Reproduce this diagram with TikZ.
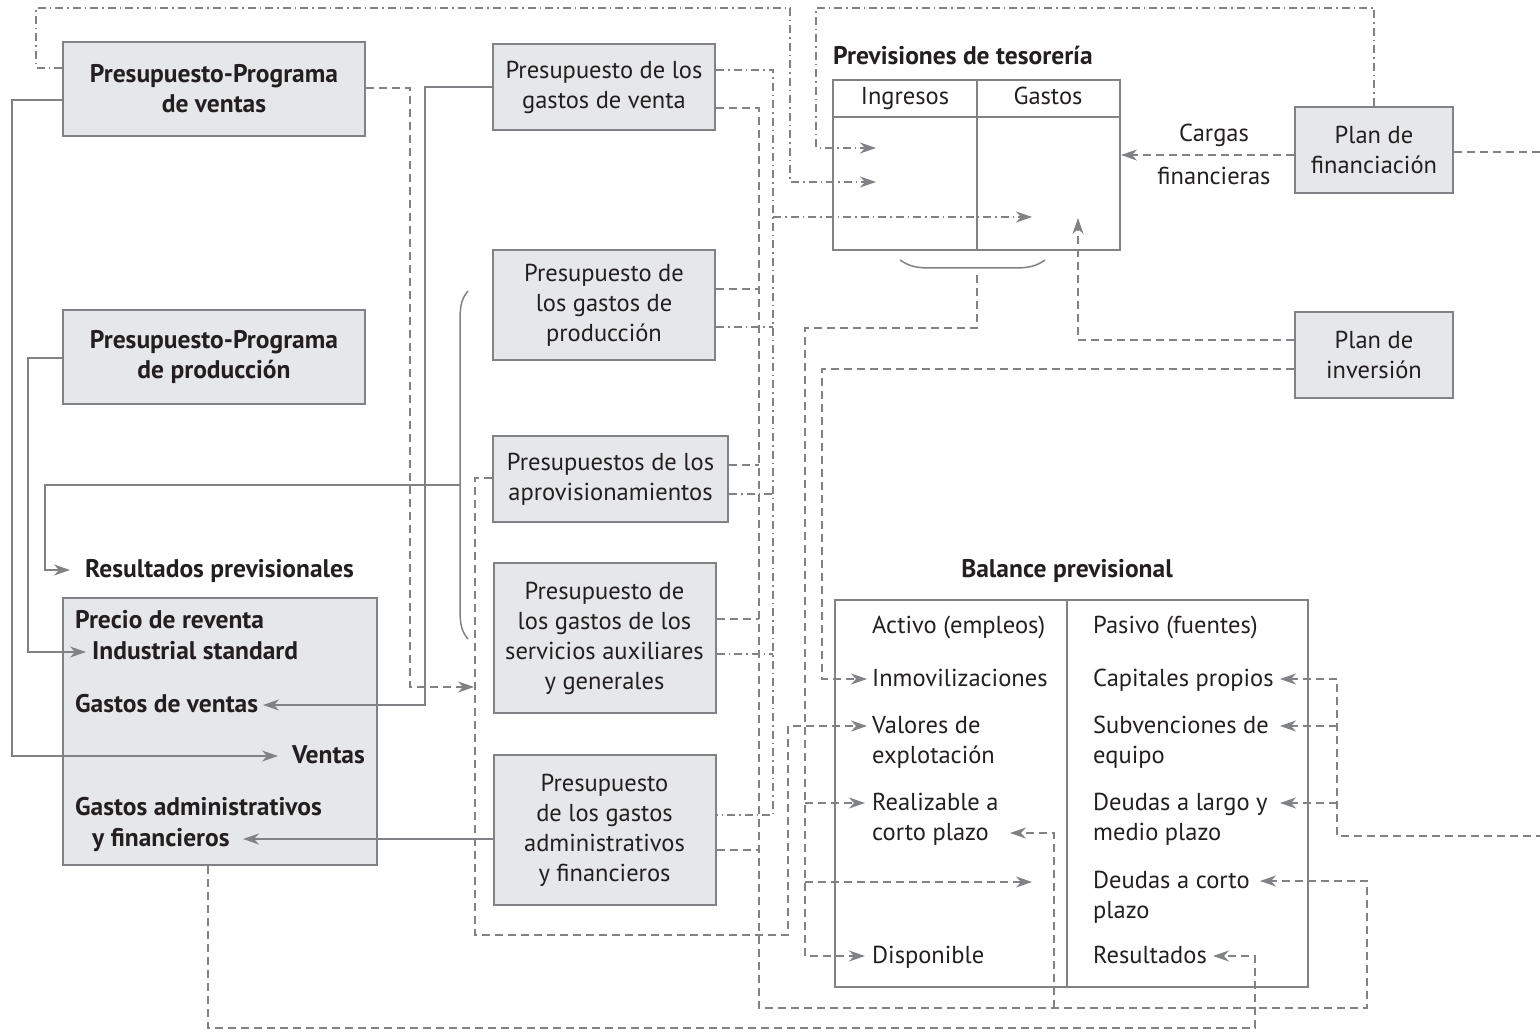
\documentclass[tikz,border=0pt]{standalone}
\usepackage{fontspec}
\setmainfont{PT Sans}
\usetikzlibrary{arrows.meta}
\definecolor{ln}{HTML}{808285}
\definecolor{bx}{HTML}{E6E7E8}
\definecolor{tx}{HTML}{231F20}

\begin{document}
\begin{tikzpicture}[x=1pt,y=-1pt,
  every node/.style={text=tx, font=\fontsize{24.5}{30}\selectfont},
  box/.style={draw=ln, line width=2pt, fill=bx, align=center, inner sep=0pt},
  bbox/.style={box, font=\fontsize{25.5}{30}\selectfont\bfseries},
  bt/.style={anchor=west, inner sep=0pt, text height=18pt, text depth=4pt},
  bold/.style={font=\fontsize{25.5}{30}\selectfont\bfseries},
  frame/.style={draw=ln, line width=2pt},
  sol/.style={draw=ln, line width=1.8pt},
  dsh/.style={draw=ln, line width=1.8pt, dash pattern=on 8pt off 5pt},
  dd/.style={draw=ln, line width=1.8pt, dash pattern=on 8pt off 4pt on 1.5pt off 4pt},
  tip/.style={-{Stealth[length=16pt,width=11pt,inset=5pt,fill=ln]}}
]
\useasboundingbox (0,0) rectangle (1540,1032);

% ---- budget boxes ----
\node[bbox, minimum width=302pt, minimum height=94pt] (pv) at (214,89) {Presupuesto-Programa\\de ventas};
\node[bbox, minimum width=302pt, minimum height=94pt] (pp) at (214,357) {Presupuesto-Programa\\de producción};
\node[box, minimum width=222pt, minimum height=86pt] (gv) at (604,87) {Presupuesto de los\\gastos de venta};
\node[box, minimum width=222pt, minimum height=110pt] (gp) at (604,305) {Presupuesto de\\los gastos de\\producción};
\node[box, minimum width=235pt, minimum height=86pt] (ap) at (610.5,479) {Presupuestos de los\\aprovisionamientos};
\node[box, minimum width=222pt, minimum height=150pt] (sa) at (604.5,638) {Presupuesto de\\los gastos de los\\servicios auxiliares\\y generales};
\node[box, minimum width=222pt, minimum height=150pt] (ga) at (604.5,830) {Presupuesto\\de los gastos\\administrativos\\y financieros};
\node[box, minimum width=158pt, minimum height=86pt] (pf) at (1374,150) {Plan de\\financiación};
\node[box, minimum width=158pt, minimum height=86pt] (pi) at (1374,355) {Plan de\\inversión};

% ---- provisional results ----
\node[bt, bold] (rprev) at (85,570) {Resultados previsionales};
\node[box, minimum width=314pt, minimum height=267pt] (rp) at (220,731.5) {};
\node[bt, bold] (prv) at (75,621) {Precio de reventa};
\node[bt, bold] (ind) at (92,652) {Industrial standard};
\node[bt, bold] (gdv) at (75,705) {Gastos de ventas};
\node[bt, bold, anchor=east] (vta) at (365,756) {Ventas};
\node[bt, bold] (gad) at (75,808) {Gastos administrativos};
\node[bt, bold] (yfin) at (92,839) {y financieros};

% ---- cash forecast table ----
\node[bt, bold] (ttes) at (833,58) {Previsiones de tesorería};
\node[frame, minimum width=287pt, minimum height=170pt, inner sep=0pt] (tes) at (976.5,165) {};
\draw[frame] (tes.west |- 0,117) -- (tes.east |- 0,117);
\draw[frame] (tes.north) -- (tes.south);
\node[bt, anchor=center] (ing) at (905,98) {Ingresos};
\node[bt, anchor=center] (gas) at (1048,98) {Gastos};
\draw[sol, line width=1.5pt] (900,260) .. controls (910,267) and (918,268) .. (932,268) -- (1013,268) .. controls (1027,268) and (1035,267) .. (1045,260);
\coordinate (bracebot) at (977,275);
\node[bt, anchor=center] (carg) at (1214,135) {Cargas};
\node[bt, anchor=center] (cfin) at (1214,178) {financieras};

% ---- brace grouping the operating budgets ----
\draw[sol, line width=1.5pt] (468,291) .. controls (462,298) and (460,305) .. (460,320) -- (460,610) .. controls (460,625) and (462,632) .. (468,639);
\coordinate (brace) at (460,485);

% ---- provisional balance sheet ----
\node[bt, bold, anchor=center] (tbal) at (1067,570) {Balance previsional};
\node[frame, minimum width=473pt, minimum height=387pt, inner sep=0pt] (bal) at (1071.5,793.5) {};
\draw[frame] (bal.north -| 1067,0) -- (bal.south -| 1067,0);
\node[bt] (act) at (872,626) {Activo (empleos)};
\node[bt] (inm) at (872,679) {Inmovilizaciones};
\node[bt] (vde) at (872,726) {Valores de};
\node[bt] (vde2) at (872,756) {explotación};
\node[bt] (rea) at (872,803) {Realizable a};
\node[bt] (cpl) at (872,833) {corto plazo};
\node[bt] (disp) at (872,956) {Disponible};
\node[bt] (pas) at (1093,626) {Pasivo (fuentes)};
\node[bt] (cap) at (1093,679) {Capitales propios};
\node[bt] (sub) at (1093,726) {Subvenciones de};
\node[bt] (sub2) at (1093,756) {equipo};
\node[bt] (dlp) at (1093,803) {Deudas a largo y};
\node[bt] (dlp2) at (1093,833) {medio plazo};
\node[bt] (dcp) at (1093,881) {Deudas a corto};
\node[bt] (dcp2) at (1093,911) {plazo};
\node[bt] (res) at (1093,956) {Resultados};

% ---- solid links to the provisional results ----
\draw[sol, tip] (pv.west |- 0,100) -- (12,100) |- (vta.west -| 278,0);
\draw[sol, tip] (pp.west |- 0,358) -- (28,358) |- (ind.west -| 86,0);
\draw[sol, tip] (brace) -- (45,485) |- (rprev.west -| 70,0);
\draw[sol, tip] (gv.west |- 0,87) -- (425,87) |- (gdv.east -| 263,0);
\draw[sol, tip] (ga.west |- yfin.east) -- (yfin.east -| 243,0);

% ---- sales programme to the operating budgets ----
\coordinate (gin) at (474,687);
\draw[dsh, tip] (pv.east |- 0,88) -- (410,88) |- (gin);
\draw[dsh, tip] (ap.west |- 0,478) -- (475,478) -- (475,935) -- (788,935) |- (vde.west -| 867,0);

% ---- expenses to short-term debts ----
\draw[dsh, tip] (gv.east |- 0,108) -- (759,108) -- (759,1008) -- (1367,1008) |- (dcp.east -| 1260,0);
\foreach \n/\y in {gp/289, ap/465, sa/619, ga/850}
  \draw[dsh] (\n.east |- 0,\y) -- (759,\y);
\draw[dsh, tip] (1054,1008) |- (cpl.east -| 1010,0);

% ---- expenses to cash payments ----
\coordinate (gasin) at (1032,217);
\draw[dd] (gv.east |- 0,70) -- (773,70) -- (773,815) -- (ga.east |- 0,815);
\foreach \n/\y in {gp/327, ap/494, sa/654}
  \draw[dd] (\n.east |- 0,\y) -- (773,\y);
\draw[dd, tip] (773,217) -- (gasin);

% ---- cash receipts ----
\draw[dd, tip] (pv.west |- 0,68) -- (36,68) -- (36,8) -- (790,8) -- (790,182) -- (876,182);
\draw[dd, tip] (pf.north) -- (1374,8) -- (816,8) -- (816,148) -- (876,148);

% ---- financing and investment plans ----
\draw[dsh, tip] (pf.west |- 0,155) -- (tes.east |- 0,155);
\draw[dsh] (pf.east |- 0,152) -- (1560,152) -- (1560,836) -- (1337,836) -- (1337,679);
\draw[dsh, tip] (cap.east -| 1337,0) -- (cap.east -| 1280,0);
\draw[dsh, tip] (sub.east -| 1337,0) -- (sub.east -| 1280,0);
\draw[dsh, tip] (dlp.east -| 1337,0) -- (dlp.east -| 1280,0);
\coordinate (gasup) at (1078,218);
\draw[dsh, tip] (pi.west |- 0,340) -- (1078,340) -- (gasup);
\draw[dsh, tip] (pi.west |- 0,369) -- (822,369) |- (inm.west -| 867,0);

% ---- cash balance to the balance sheet ----
\coordinate (ccp) at (1032,882);
\draw[dsh, tip] (bracebot) -- (977,328) -- (805,328) |- (disp.west -| 865,0);
\draw[dsh, tip] (rea.west -| 805,0) -- (rea.west -| 865,0);
\draw[dsh, tip] (805,882) -- (ccp);

% ---- results to the balance sheet ----
\draw[dsh, tip] (rp.south -| 208,0) -- (208,1028) -- (1255,1028) |- (res.east -| 1213,0);
\end{tikzpicture}
\end{document}
